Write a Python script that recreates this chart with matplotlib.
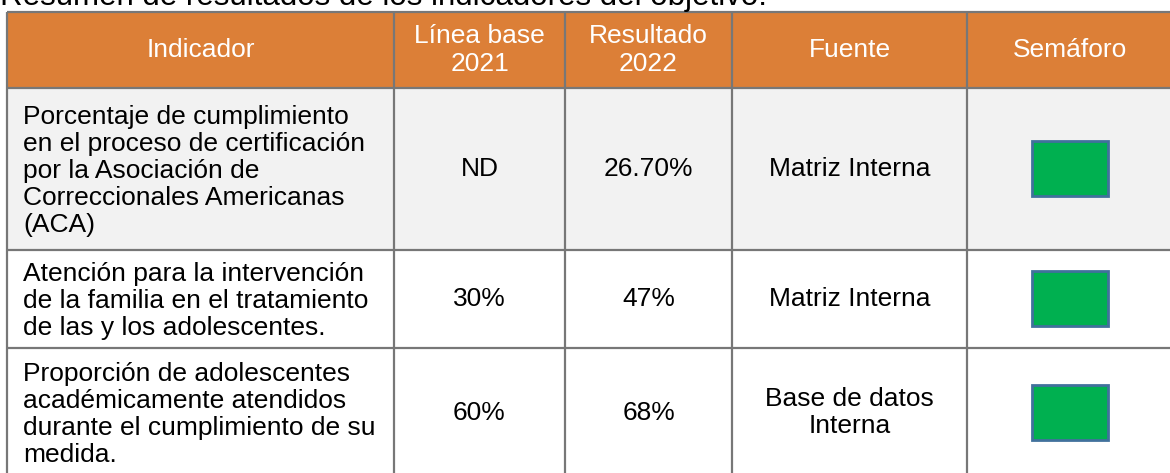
import matplotlib.pyplot as plt
from matplotlib.patches import Rectangle

# datos de la tabla
titulo = "Resumen de resultados de los indicadores del objetivo."
encabezados = ["Indicador", "Línea base\n2021", "Resultado\n2022", "Fuente", "Semáforo"]
indicadores = [
    "Porcentaje de cumplimiento\nen el proceso de certificación\npor la Asociación de\nCorreccionales Americanas\n(ACA)",
    "Atención para la intervención\nde la familia en el tratamiento\nde las y los adolescentes.",
    "Proporción de adolescentes\nacadémicamente atendidos\ndurante el cumplimiento de su\nmedida.",
]
linea_base = ["ND", "30%", "60%"]
resultado = ["26.70%", "47%", "68%"]
fuente = ["Matriz Interna", "Matriz Interna", "Base de datos\nInterna"]
semaforo = ["#00B050", "#00B050", "#00B050"]

# distribución (pixeles)
col_x = [7, 394, 565, 732, 967, 1172]
row_y = [12, 88, 250, 348, 477]
fondo_filas = ["#F2F2F2", "#FFFFFF", "#FFFFFF"]
naranja = "#DC7F37"
gris = "#777777"

plt.rcParams['font.family'] = ['Liberation Sans', 'DejaVu Sans']

fig = plt.figure(figsize=(11.7, 4.73), dpi=100)
ax = fig.add_axes([0, 0, 1, 1])
ax.set_xlim(0, 1170)
ax.set_ylim(473, 0)
ax.axis('off')

ax.text(0, 5, titulo, fontsize=22.5, va='baseline', ha='left', color='black')

# encabezado
ax.add_patch(Rectangle((col_x[0], row_y[0]), col_x[-1] - col_x[0], row_y[1] - row_y[0],
                       facecolor=naranja, edgecolor='none'))
for j, h in enumerate(encabezados):
    cx = (col_x[j] + col_x[j + 1]) / 2
    cy = (row_y[0] + row_y[1]) / 2
    ax.text(cx, cy, h, ha='center', va='center', color='white', fontsize=19,
            linespacing=1.22)

# filas
for i in range(len(indicadores)):
    y0, y1 = row_y[i + 1], row_y[i + 2]
    cy = (y0 + y1) / 2
    ax.add_patch(Rectangle((col_x[0], y0), col_x[-1] - col_x[0], y1 - y0,
                           facecolor=fondo_filas[i], edgecolor='none'))
    ax.text(col_x[0] + 16, cy + 2, indicadores[i], ha='left', va='center', fontsize=19,
            linespacing=1.15)
    valores = [linea_base[i], resultado[i], fuente[i]]
    for j, v in enumerate(valores):
        cx = (col_x[j + 1] + col_x[j + 2]) / 2
        ax.text(cx, cy, v, ha='center', va='center', fontsize=19, linespacing=1.15)
    cx = (col_x[4] + col_x[5]) / 2
    ax.add_patch(Rectangle((cx - 38, cy - 28), 76, 55, facecolor=semaforo[i],
                           edgecolor='#41719C', linewidth=2))

# líneas
for x in col_x[:-1]:
    ax.plot([x, x], [row_y[0], 473], color=gris, lw=1.6, solid_capstyle='butt')
for y in row_y[:-1]:
    ax.plot([col_x[0], col_x[-1]], [y, y], color=gris, lw=1.6, solid_capstyle='butt')

fig.savefig("out.png", dpi=100)
